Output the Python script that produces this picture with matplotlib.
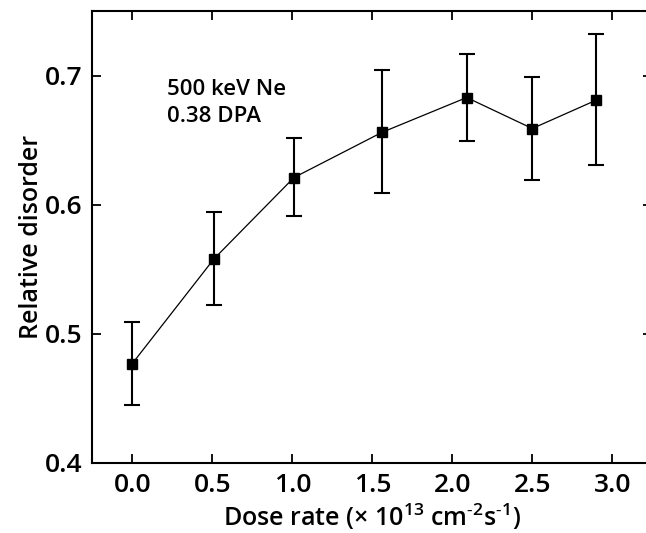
import matplotlib
matplotlib.use("Agg")
import matplotlib.pyplot as plt

dose_rate = [0.0, 0.51, 1.01, 1.56, 2.09, 2.50, 2.90]
disorder = [0.477, 0.558, 0.621, 0.656, 0.683, 0.659, 0.681]
err_low = [0.445, 0.522, 0.591, 0.609, 0.649, 0.619, 0.631]
err_high = [0.509, 0.594, 0.652, 0.704, 0.717, 0.699, 0.732]
xticks = [0.0, 0.5, 1.0, 1.5, 2.0, 2.5, 3.0]
yticks = [0.4, 0.5, 0.6, 0.7]

plt.rcParams['font.family'] = ['Open Sans', 'DejaVu Sans']
plt.rcParams['mathtext.fontset'] = 'custom'
plt.rcParams['mathtext.rm'] = 'Open Sans:semibold'
plt.rcParams['mathtext.it'] = 'Open Sans:semibold'
plt.rcParams['mathtext.bf'] = 'Open Sans:bold'

fig = plt.figure(figsize=(6.46, 5.33), dpi=100)
ax = fig.add_axes([92.3/646, (533-463)/533, (652.3-92.3)/646, (463-11)/533])

yerr = [[d - l for d, l in zip(disorder, err_low)],
        [h - d for d, h in zip(disorder, err_high)]]
ax.errorbar(dose_rate, disorder, yerr=yerr, fmt='s-', color='black',
            markersize=7.5, linewidth=0.9, elinewidth=1.5, capsize=6,
            capthick=1.5, ecolor='black')

ax.set_xlim(-0.25, 3.25)
ax.set_ylim(0.4, 0.75)
ax.set_xticks(xticks)
ax.set_xticklabels([f"{t:.1f}" for t in xticks])
ax.set_yticks(yticks)
ax.set_yticklabels([f"{t:.1f}" for t in yticks])

for s in ax.spines.values():
    s.set_linewidth(1.5)
ax.tick_params(direction='in', length=6.5, width=1.3, top=True, right=True,
               labelsize=19, pad=7)
for lab in ax.get_xticklabels() + ax.get_yticklabels():
    lab.set_fontweight('semibold')

ax.set_xlabel("Dose rate ($\\times$ 10$^{13}$ cm$^{\u2010 2}$s$^{\u2010 1}$)", fontsize=18,
              fontweight='semibold', labelpad=3)
ax.set_ylabel("Relative disorder", fontsize=18, fontweight='semibold', labelpad=1)

ax.text(0.215, 0.664, "500 keV Ne\n0.38 DPA", fontsize=16, fontweight='semibold',
        va='baseline', ha='left', linespacing=1.4)

fig.savefig("out.png", dpi=100)
